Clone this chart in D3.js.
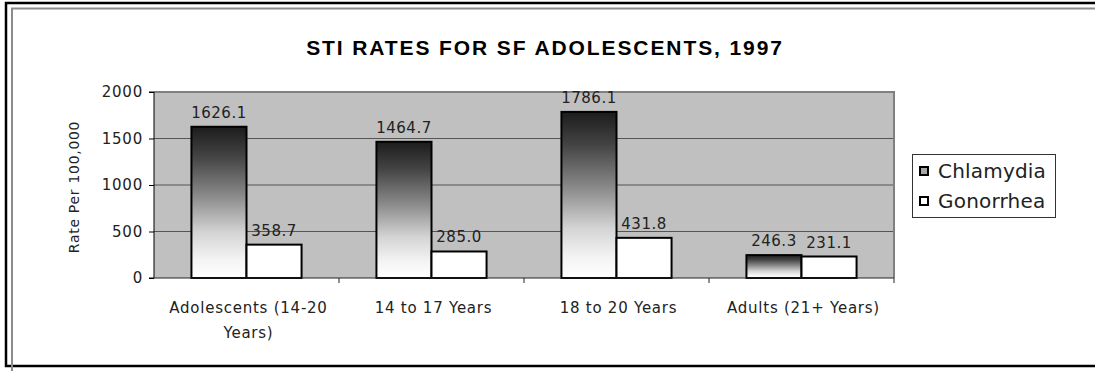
<!DOCTYPE html>
<html>
<head>
<meta charset="utf-8">
<script src="https://cdn.jsdelivr.net/npm/d3@7/dist/d3.min.js"></script>
<style>
  html, body { margin: 0; padding: 0; background: #fff; }
  svg { display: block; }
  text { font-family: "DejaVu Sans", Verdana, sans-serif; fill: #222; }
</style>
</head>
<body>
<svg id="chart" width="1095" height="371"></svg>
<script>
// STI rates per 100,000, San Francisco, 1997
const categories = [["Adolescents (14-20", "Years)"], ["14 to 17 Years"], ["18 to 20 Years"], ["Adults (21+ Years)"]];
const seriesNames = ["Chlamydia", "Gonorrhea"];
const chlamydia = [1626.1, 1464.7, 1786.1, 246.3];
const gonorrhea = [358.7, 285.0, 431.8, 231.1];
const yTicks = [0, 500, 1000, 1500, 2000];
const titleText = "STI RATES FOR SF ADOLESCENTS, 1997";
const yTitle = "Rate Per 100,000";

const svg = d3.select("#chart");
const W = 1095, H = 371;
const plot = { left: 154, right: 894, top: 92, bottom: 278 };

// frame: black outer rule and gray inner rule
svg.append("path").attr("d", `M${W},3 H6 V366 H${W}`)
  .attr("fill", "none").attr("stroke", "#000").attr("stroke-width", 2.5);
svg.append("path").attr("d", `M${W},8.5 H12 V${H}`)
  .attr("fill", "none").attr("stroke", "#8c8c8c").attr("stroke-width", 2);

// title
svg.append("text")
  .attr("x", 545).attr("y", 55)
  .attr("text-anchor", "middle")
  .style("font-family", "'Liberation Sans', Arial, sans-serif")
  .style("font-weight", "bold").style("font-size", "21px")
  .style("letter-spacing", "1.9px")
  .style("fill", "#000")
  .text(titleText);

const keys = categories.map(c => c.join(" "));
const x0 = d3.scaleBand().domain(keys).range([plot.left, plot.right]);
const x1 = d3.scaleBand().domain(seriesNames).range([0, x0.bandwidth()])
  .paddingInner(0).paddingOuter(0.68);
const y = d3.scaleLinear().domain([0, 2000]).range([plot.bottom, plot.top]);

// gradient for chlamydia bars
const defs = svg.append("defs");
const grad = defs.append("linearGradient").attr("id", "chlGrad")
  .attr("x1", 0).attr("y1", 0).attr("x2", 0).attr("y2", 1);
[[0, "#1c1c1c"], [0.2, "#444"], [0.45, "#888"], [0.7, "#d4d4d4"], [0.88, "#f4f4f4"], [1, "#fff"]]
  .forEach(([o, c]) => grad.append("stop").attr("offset", o).attr("stop-color", c));

// plot background
svg.append("rect")
  .attr("x", plot.left).attr("y", plot.top)
  .attr("width", plot.right - plot.left).attr("height", plot.bottom - plot.top)
  .attr("fill", "#c0c0c0");

// gridlines
svg.append("g").selectAll("line").data(yTicks.filter(t => t > 0 && t < 2000)).join("line")
  .attr("x1", plot.left).attr("x2", plot.right)
  .attr("y1", d => y(d)).attr("y2", d => y(d))
  .attr("stroke", "#555").attr("stroke-width", 1);

// plot border (top and right)
svg.append("path")
  .attr("d", `M${plot.left},${y(2000)} H${plot.right} V${plot.bottom}`)
  .attr("fill", "none").attr("stroke", "#808080").attr("stroke-width", 2);

// bars
const rows = keys.map((k, i) => ({ key: k, values: [chlamydia[i], gonorrhea[i]] }));
const groups = svg.append("g").selectAll("g").data(rows).join("g")
  .attr("transform", d => `translate(${x0(d.key)},0)`);
groups.selectAll("rect").data(d => d.values.map((v, j) => ({ s: seriesNames[j], v }))).join("rect")
  .attr("x", d => x1(d.s)).attr("width", x1.bandwidth())
  .attr("y", d => y(d.v)).attr("height", d => y(0) - y(d.v))
  .attr("fill", d => d.s === "Chlamydia" ? "url(#chlGrad)" : "#fff")
  .attr("stroke", "#000").attr("stroke-width", 2);

// value labels
groups.selectAll("text").data(d => d.values.map((v, j) => ({ s: seriesNames[j], v }))).join("text")
  .attr("x", d => x1(d.s) + x1.bandwidth() / 2)
  .attr("y", d => y(d.v) - 9)
  .attr("text-anchor", "middle")
  .style("font-size", "15px").style("letter-spacing", "0.5px")
  .text(d => d.v.toFixed(1));

// y axis
const yAxis = d3.axisLeft(y).tickValues(yTicks).tickSize(5).tickPadding(6).tickFormat(d3.format("d"));
const gy = svg.append("g").attr("transform", `translate(${plot.left},0)`).call(yAxis);
gy.select(".domain").attr("stroke", "#000").attr("d", `M-5,${plot.top}H0V${plot.bottom}H-5`);
gy.selectAll(".tick line").attr("stroke", "#000");
gy.selectAll(".tick text")
  .style("font-family", "'DejaVu Sans', Verdana, sans-serif")
  .style("font-size", "15px").style("letter-spacing", "0.8px").style("fill", "#222");

// x axis
const xAxis = d3.axisBottom(x0).tickSize(0).tickFormat(() => "");
const gx = svg.append("g").attr("transform", `translate(0,${plot.bottom})`).call(xAxis);
gx.select(".domain").attr("stroke", "#222").attr("d", `M${plot.left},0H${plot.right}`);
// category separators
svg.append("g").selectAll("line").data(keys.map(k => x0(k) + x0.bandwidth())).join("line")
  .attr("x1", d => d).attr("x2", d => d)
  .attr("y1", plot.bottom).attr("y2", plot.bottom + 5)
  .attr("stroke", "#222");

// category labels
const catLabels = svg.append("g").selectAll("text").data(categories).join("text")
  .attr("x", (d, i) => x0(keys[i]) + x0.bandwidth() / 2 + 2)
  .attr("y", 313)
  .attr("text-anchor", "middle")
  .style("font-size", "15px").style("letter-spacing", "0.75px");
catLabels.selectAll("tspan").data(d => d).join("tspan")
  .attr("x", function () { return d3.select(this.parentNode).attr("x"); })
  .attr("dy", (d, i) => i === 0 ? 0 : 25)
  .text(d => d);

// y axis title
svg.append("text")
  .attr("transform", `translate(79,${(plot.top + plot.bottom) / 2 + 2}) rotate(-90)`)
  .attr("text-anchor", "middle")
  .style("font-size", "14px").style("letter-spacing", "0.7px")
  .text(yTitle);

// legend
const lg = svg.append("g").attr("transform", "translate(912,154)");
lg.append("rect").attr("x", 0.5).attr("y", 0.5).attr("width", 143).attr("height", 63)
  .attr("fill", "#fff").attr("stroke", "#333").attr("stroke-width", 1);
const items = lg.selectAll("g").data(seriesNames).join("g")
  .attr("transform", (d, i) => `translate(0,${i * 30})`);
items.append("rect").attr("x", 8).attr("y", 13).attr("width", 8).attr("height", 8)
  .attr("fill", (d, i) => i === 0 ? "#a6a6a6" : "#fff")
  .attr("stroke", "#000").attr("stroke-width", 2);
items.append("text").attr("x", 26).attr("y", 24)
  .style("font-size", "20px").style("letter-spacing", "0.2px")
  .text(d => d);
</script>
</body>
</html>
